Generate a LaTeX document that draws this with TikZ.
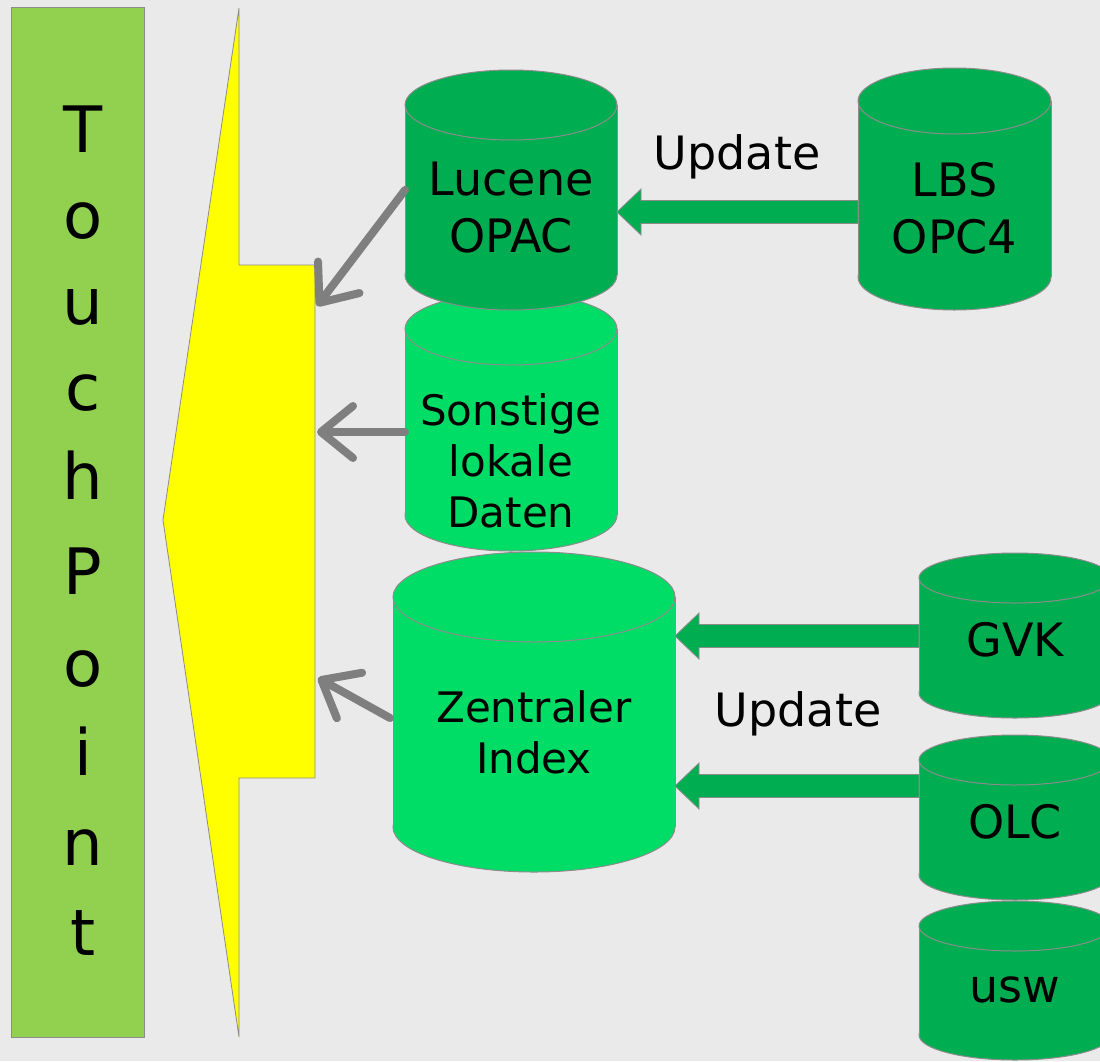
\documentclass[tikz,border=0pt]{standalone}
\usepackage{fontspec}
\setmainfont{DejaVu Sans}
\usetikzlibrary{arrows.meta,calc}
\definecolor{bg}{HTML}{EAEAEA}
\definecolor{tpgreen}{HTML}{92D050}
\definecolor{dgreen}{HTML}{00AD50}
\definecolor{lgreen}{HTML}{00DD66}
\definecolor{edge}{HTML}{8C8C8C}
\definecolor{garrow}{HTML}{7F7F7F}
\definecolor{portalyellow}{RGB}{255,255,0}
\tikzset{
  outline/.style={draw=edge, line width=1pt},
  cylbox/.style={inner sep=0pt, outer sep=0pt},
  bigtxt/.style={inner sep=0pt, align=center, font=\fontsize{46}{57}\selectfont},
  midtxt/.style={inner sep=0pt, align=center, font=\fontsize{42}{51}\selectfont},
  tptxt/.style={inner sep=0pt, anchor=base, font=\fontsize{64}{70}\selectfont},
  grayarrow/.style={draw=garrow, line width=8pt, line cap=round,
     -{Straight Barb[length=32pt, width=52pt, round]}},
  greenarrow/.style={fill=dgreen, draw=edge, line width=0.8pt},
}
% name, cx, ytop-centre, ybottom-centre, rx, ry, colour
\newcommand\dbcyl[7]{%
  \filldraw[fill=#7, outline] (#2,#4) ellipse [x radius=#5pt, y radius=#6pt];
  \fill[#7] (#2-#5,#3) rectangle (#2+#5,#4);
  \draw[outline] (#2-#5,#3) -- (#2-#5,#4) (#2+#5,#3) -- (#2+#5,#4);
  \filldraw[fill=#7, outline] (#2,#3) ellipse [x radius=#5pt, y radius=#6pt];
  \node[cylbox, minimum width={2*#5*1pt}, minimum height={(#4-#3)*1pt}] (#1) at (#2,{(#3+#4)/2}) {};
}
% from node, to node, y
\newcommand\blockarr[3]{%
  \filldraw[greenarrow] let \p1=(#1.west), \p2=(#2.east), \p3=(0,#3) in
    (\x1,\y3+11.5pt) -- (\x2+24pt,\y3+11.5pt) -- (\x2+24pt,\y3+23pt) -- (\x2,\y3)
    -- (\x2+24pt,\y3-23pt) -- (\x2+24pt,\y3-11.5pt) -- (\x1,\y3-11.5pt) -- cycle;
}
\begin{document}
\begin{tikzpicture}[x=1pt, y=-1pt]
\clip (0,0) rectangle (1100,1061);
\fill[bg] (0,0) rectangle (1100,1061);

% TouchPoint column
\filldraw[fill=tpgreen, draw=edge, line width=1pt] (11,7) rectangle (144,1037);
\node[cylbox, minimum width=133pt, minimum height=1030pt] (touch) at (77.5,522) {};
\foreach \ch/\yy [count=\i] in {T/152, o/238, u/324, c/410, h/499, P/594, o/686, i/775, n/865, t/955}
  \node[tptxt] (tp\i) at (83,\yy) {\ch};

% yellow portal
\filldraw[fill=portalyellow, draw=edge, line width=0.8pt]
  (239,8) -- (239,265) -- (315,265) -- (315,778) -- (239,778) -- (239,1037) -- (163,520) -- cycle;
\node[cylbox, minimum width=76pt, minimum height=513pt] (portal) at (277,521.5) {};

% cylinders
\dbcyl{sonst}{511}{329}{515}{106}{36}{lgreen}
\dbcyl{lucene}{511}{105}{275}{106}{35}{dgreen}
\dbcyl{zentral}{534}{597}{827}{141}{45}{lgreen}
\dbcyl{lbs}{954.5}{101}{277}{96.5}{33}{dgreen}
\dbcyl{gvk}{1015}{578}{693}{96}{25}{dgreen}
\dbcyl{olc}{1015}{760}{875}{96}{25}{dgreen}
\dbcyl{usw}{1015}{926}{1035}{96}{25}{dgreen}

% texts
\node[bigtxt] (lucene-t) at (511,208) {Lucene\\OPAC};
\node[bigtxt] (lbs-t) at (954.5,208) {LBS\\OPC4};
\node[midtxt] (sonst-t) at (511,461) {Sonstige\\lokale\\Daten};
\node[midtxt] (zentral-t) at (534,732) {Zentraler\\Index};
\node[bigtxt] (gvk-t) at (1015,640) {GVK};
\node[bigtxt] (olc-t) at (1015,822) {OLC};
\node[bigtxt] (usw-t) at (1015,990) {usw};
\node[bigtxt] (upd1) at (737,157) {Update};
\node[bigtxt] (upd2) at (798,714) {Update};

% green update arrows
\blockarr{lbs}{lucene}{212}
\blockarr{gvk}{zentral}{636}
\blockarr{olc}{zentral}{786}

% gray arrows into the portal
\coordinate (in1) at (317,306);
\coordinate (in2) at (317,432);
\coordinate (in3) at (318,678);
\coordinate (out2) at (405,432);
\coordinate (out3) at (390,718);
\draw[grayarrow] (lucene.west) -- (in1);
\draw[grayarrow] (out2) -- (in2);
\draw[grayarrow] (out3) -- (in3);
\end{tikzpicture}
\end{document}
